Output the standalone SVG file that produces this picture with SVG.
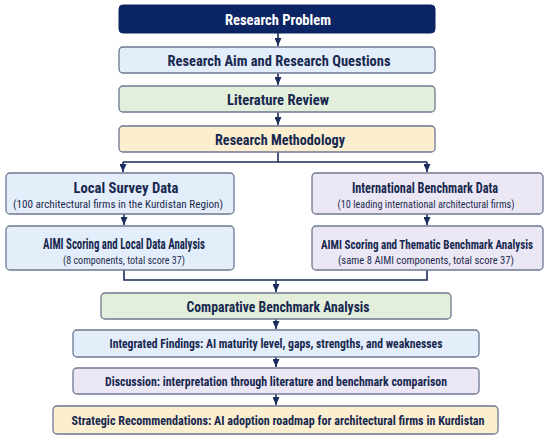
<svg xmlns="http://www.w3.org/2000/svg" width="550" height="438" viewBox="0 0 550 438">
<defs>
<marker id="ah" viewBox="0 0 8 7" refX="8" refY="3.5" markerWidth="8" markerHeight="7" markerUnits="userSpaceOnUse" orient="auto">
<path d="M0,0 L8,3.5 L0,7 Z" fill="#1a2d5c"/>
</marker>
<style>
.box{stroke:#6c7891;stroke-width:1.3}
.blue{fill:#e4eefa}
.green{fill:#e3efdb}
.yellow{fill:#fcefd0}
.purple{fill:#ece7f4}
.t{font-family:"Roboto Condensed","Liberation Sans Narrow",Roboto,"Liberation Sans",sans-serif;font-weight:bold;fill:#17284f;text-anchor:middle}
.s{font-family:"Roboto Condensed","Liberation Sans Narrow",Roboto,"Liberation Sans",sans-serif;font-weight:normal;fill:#1d2c50;text-anchor:middle}
.c{fill:none;stroke:#1a2d5c;stroke-width:1.6}
</style>
</defs>
<rect width="550" height="438" fill="#ffffff"/>
<g id="connectors">
<path class="c" d="M278,33 V46" marker-end="url(#ah)"/>
<path class="c" d="M278,73 V85" marker-end="url(#ah)"/>
<path class="c" d="M278,112 V125" marker-end="url(#ah)"/>
<path class="c" d="M278,152 V162 M123,162 H427"/>
<path class="c" d="M123,162 V172" marker-end="url(#ah)"/>
<path class="c" d="M427,162 V172" marker-end="url(#ah)"/>
<path class="c" d="M124,214 V225" marker-end="url(#ah)"/>
<path class="c" d="M427,214 V225" marker-end="url(#ah)"/>
<path class="c" d="M124,270 V280 H427 V270"/>
<path class="c" d="M276,280 V292" marker-end="url(#ah)"/>
<path class="c" d="M276,319 V329" marker-end="url(#ah)"/>
<path class="c" d="M276,357 V367" marker-end="url(#ah)"/>
<path class="c" d="M276,394 V405" marker-end="url(#ah)"/>
</g>
<g id="research-problem">
<rect x="119" y="5" width="316" height="28" rx="4" fill="#0b2463" stroke="#0b2463"/>
<text x="278" y="24.5" class="t" style="fill:#ffffff" font-size="15" textLength="106" lengthAdjust="spacingAndGlyphs">Research Problem</text>
</g>
<g id="research-aim">
<rect class="box blue" x="119" y="47" width="316" height="26" rx="4"/>
<text x="279" y="65.5" class="t" font-size="15" textLength="223" lengthAdjust="spacingAndGlyphs">Research Aim and Research Questions</text>
</g>
<g id="literature-review">
<rect class="box green" x="119" y="86" width="316" height="26" rx="4"/>
<text x="278" y="104.5" class="t" font-size="15" textLength="102" lengthAdjust="spacingAndGlyphs">Literature Review</text>
</g>
<g id="research-methodology">
<rect class="box yellow" x="119" y="126" width="316" height="26" rx="4"/>
<text x="280" y="144.5" class="t" font-size="15" textLength="130" lengthAdjust="spacingAndGlyphs">Research Methodology</text>
</g>
<g id="local-survey">
<rect class="box blue" x="6" y="173" width="228" height="41" rx="4"/>
<text x="126" y="193" class="t" font-size="14" textLength="105" lengthAdjust="spacingAndGlyphs">Local Survey Data</text>
<text x="118" y="207.5" class="s" font-size="11" textLength="210" lengthAdjust="spacingAndGlyphs">(100 architectural firms in the Kurdistan Region)</text>
</g>
<g id="local-analysis">
<rect class="box blue" x="6" y="226" width="228" height="44" rx="4"/>
<text x="124" y="249" class="t" font-size="14" textLength="162" lengthAdjust="spacingAndGlyphs">AIMI Scoring and Local Data Analysis</text>
<text x="124" y="264" class="s" font-size="11" textLength="122" lengthAdjust="spacingAndGlyphs">(8 components, total score 37)</text>
</g>
<g id="international-benchmark">
<rect class="box purple" x="312" y="173" width="231" height="41" rx="4"/>
<text x="425" y="193" class="t" font-size="14" textLength="146" lengthAdjust="spacingAndGlyphs">International Benchmark Data</text>
<text x="426" y="207.5" class="s" font-size="11" textLength="177" lengthAdjust="spacingAndGlyphs">(10 leading international architectural firms)</text>
</g>
<g id="thematic-analysis">
<rect class="box purple" x="312" y="226" width="231" height="44" rx="4"/>
<text x="427" y="249" class="t" font-size="13" textLength="212" lengthAdjust="spacingAndGlyphs">AIMI Scoring and Thematic Benchmark Analysis</text>
<text x="426" y="264" class="s" font-size="11" textLength="176" lengthAdjust="spacingAndGlyphs">(same 8 AIMI components, total score 37)</text>
</g>
<g id="comparative-analysis">
<rect class="box green" x="101" y="293" width="350" height="26" rx="4"/>
<text x="278" y="312" class="t" font-size="14" textLength="183" lengthAdjust="spacingAndGlyphs">Comparative Benchmark Analysis</text>
</g>
<g id="integrated-findings">
<rect class="box blue" x="73" y="330" width="406" height="27" rx="4"/>
<text x="276" y="347.5" class="t" font-size="12" textLength="333" lengthAdjust="spacingAndGlyphs">Integrated Findings: AI maturity level, gaps, strengths, and weaknesses</text>
</g>
<g id="discussion">
<rect class="box purple" x="73" y="368" width="406" height="26" rx="4"/>
<text x="276" y="385.5" class="t" font-size="12" textLength="342" lengthAdjust="spacingAndGlyphs">Discussion: interpretation through literature and benchmark comparison</text>
</g>
<g id="recommendations">
<rect class="box yellow" x="53" y="406" width="445" height="28" rx="4"/>
<text x="278" y="424.5" class="t" font-size="12.5" textLength="413" lengthAdjust="spacingAndGlyphs">Strategic Recommendations: AI adoption roadmap for architectural firms in Kurdistan</text>
</g>
</svg>
